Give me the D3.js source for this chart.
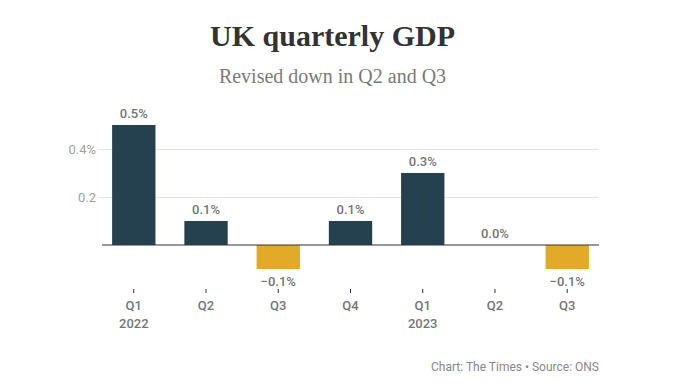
<!DOCTYPE html>
<html>
<head>
<meta charset="utf-8">
<script src="https://cdn.jsdelivr.net/npm/d3@7"></script>
<style>
  body { margin: 0; background: #fff; }
  text { font-family: Roboto, "Noto Sans", sans-serif; }
</style>
</head>
<body>
<div class="container"></div>
<script>
var quarters = ['Q1', 'Q2', 'Q3', 'Q4', 'Q1', 'Q2', 'Q3'];
var years = ['2022', '', '', '', '2023', '', ''];
var gdp = [0.5, 0.1, -0.1, 0.1, 0.3, 0.0, -0.1];
var yTicks = [0.2, 0.4];
var yTickLabels = ['0.2', '0.4%'];

var WIDTH = 685, HEIGHT = 387;
var NAVY = '#25414f', GOLD = '#e1aa27';

var svg = d3.select('.container').append('svg')
  .attr('width', WIDTH)
  .attr('height', HEIGHT);

var idx = d3.range(gdp.length);

var xScale = d3.scaleBand()
  .domain(idx)
  .range([102, 599])
  .paddingInner(0.4)
  .paddingOuter(0.14);

var yScale = d3.scaleLinear()
  .domain([0, 0.5])
  .range([245, 125]);

// title block
svg.append('text')
  .attr('x', WIDTH / 2 - 10).attr('y', 46)
  .attr('text-anchor', 'middle')
  .style('font-family', '"Liberation Serif", "DejaVu Serif", serif')
  .style('font-weight', 'bold')
  .style('font-size', '30px')
  .style('fill', '#333')
  .text('UK quarterly GDP');

svg.append('text')
  .attr('x', WIDTH / 2 - 10).attr('y', 83)
  .attr('text-anchor', 'middle')
  .style('font-family', '"Liberation Serif", "DejaVu Serif", serif')
  .style('font-size', '20px')
  .style('fill', '#7a7a7a')
  .text('Revised down in Q2 and Q3');

// gridlines + y labels
var yAxis = d3.axisLeft(yScale)
  .tickValues(yTicks)
  .tickSize(-(599 - 99))
  .tickFormat(function(d, i) { return yTickLabels[i]; });

var yg = svg.append('g')
  .attr('transform', 'translate(99,0)')
  .call(yAxis);
yg.select('.domain').remove();
yg.selectAll('.tick line').attr('stroke', '#e6e6e6');
yg.selectAll('.tick text')
  .attr('x', -3)
  .style('font-size', '13px')
  .style('fill', '#a0a0a0');

// bars
svg.selectAll('rect.bar').data(gdp)
  .enter()
  .append('rect')
  .attr('class', 'bar')
  .attr('x', function(d, i) { return xScale(i); })
  .attr('y', function(d) { return yScale(Math.max(0, d)); })
  .attr('width', xScale.bandwidth())
  .attr('height', function(d) { return Math.abs(yScale(d) - yScale(0)); })
  .attr('fill', function(d) { return d < 0 ? GOLD : NAVY; });

// zero line
svg.append('line')
  .attr('x1', 102).attr('x2', 599)
  .attr('y1', yScale(0)).attr('y2', yScale(0))
  .attr('stroke', '#333')
  .attr('stroke-width', 1.2);

// value labels
svg.selectAll('text.val').data(gdp)
  .enter()
  .append('text')
  .attr('class', 'val')
  .attr('x', function(d, i) { return xScale(i) + xScale.bandwidth() / 2; })
  .attr('y', function(d) { return d < 0 ? yScale(d) + 17 : yScale(d) - 7; })
  .attr('text-anchor', 'middle')
  .style('font-size', '13px')
  .style('font-weight', 500)
  .style('fill', '#757575')
  .text(function(d) { return (d < 0 ? '\u2212' : '') + Math.abs(d).toFixed(1) + '%'; });

// x axis
var xAxis = d3.axisBottom(xScale)
  .tickSize(4)
  .tickPadding(8)
  .tickFormat(function(d) { return quarters[d]; });

var xg = svg.append('g')
  .attr('transform', 'translate(0,289)')
  .call(xAxis);
xg.select('.domain').remove();
xg.selectAll('.tick line').attr('stroke', '#333');
xg.selectAll('.tick text')
  .style('font-size', '13px')
  .style('font-weight', 500)
  .style('fill', '#757575');

xg.selectAll('.tick').append('text')
  .attr('y', 39)
  .attr('text-anchor', 'middle')
  .style('font-size', '13px')
  .style('font-weight', 500)
  .style('fill', '#757575')
  .text(function(d) { return years[d]; });

// footer
svg.append('text')
  .attr('x', 599).attr('y', 371)
  .attr('text-anchor', 'end')
  .style('font-size', '12px')
  .style('fill', '#888')
  .text('Chart: The Times \u2022 Source: ONS');
</script>
</body>
</html>
